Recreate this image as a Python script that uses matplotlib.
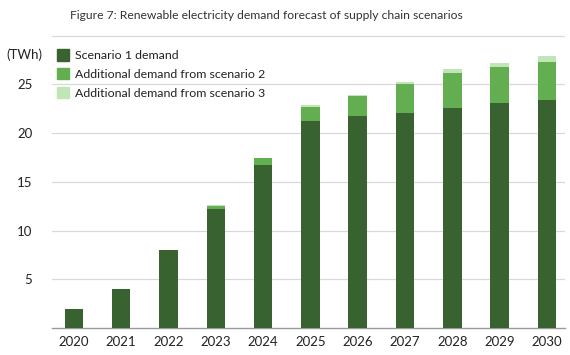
import matplotlib
matplotlib.use("Agg")
import matplotlib.pyplot as plt
from matplotlib.patches import Patch

years = ["2020", "2021", "2022", "2023", "2024", "2025", "2026", "2027", "2028", "2029", "2030"]
scenario1 = [2.0, 4.0, 8.0, 12.2, 16.7, 21.25, 21.75, 22.1, 22.6, 23.1, 23.4]
add_s2 = [0.0, 0.0, 0.0, 0.35, 0.75, 1.45, 2.05, 2.9, 3.6, 3.7, 3.9]
add_s3 = [0.0, 0.0, 0.0, 0.1, 0.05, 0.2, 0.1, 0.25, 0.4, 0.4, 0.65]
yticks = [5, 10, 15, 20, 25]
labels = ["Scenario 1 demand", "Additional demand from scenario 2", "Additional demand from scenario 3"]
title = "Figure 7: Renewable electricity demand forecast of supply chain scenarios"

c1, c2, c3 = "#386230", "#62ae50", "#bfe6b6"
plt.rcParams['font.family'] = ['Lato', 'DejaVu Sans']

fig = plt.figure(figsize=(5.7, 3.55), dpi=100)
# y from 0 to 30.5 ; 30 at y=36 px, 0 at 328 px
ax = fig.add_axes([0.091, 0.076, 0.9, 0.837])

x = list(range(len(years)))
w = 0.39
ax.bar(x, scenario1, w, color=c1, zorder=3)
b2 = [a for a in scenario1]
ax.bar(x, add_s2, w, bottom=b2, color=c2, zorder=3)
b3 = [a + b for a, b in zip(scenario1, add_s2)]
ax.bar(x, add_s3, w, bottom=b3, color=c3, zorder=3)

ax.set_ylim(0, 30.5)
ax.set_xlim(-0.465, 10.38)
ax.set_yticks([5, 10, 15, 20, 25, 30])
ax.set_yticklabels([str(t) for t in yticks] + [""])
ax.set_xticks(x)
ax.set_xticklabels(years)
ax.grid(axis='y', color='#d9d9d9', linewidth=0.9, zorder=0)
for s in ['top', 'right', 'left']:
    ax.spines[s].set_visible(False)
ax.spines['bottom'].set_color('#999999')
ax.spines['bottom'].set_linewidth(1.0)
ax.tick_params(axis='both', length=0, labelsize=9.5, colors='#222222')
ax.tick_params(axis='y', pad=14)
ax.tick_params(axis='x', pad=6)

fig.text(0.074, 0.845, "(TWh)", ha='right', va='center', fontsize=9.5, color='#222222')

handles = [Patch(color=c) for c in (c1, c2, c3)]
leg = ax.legend(handles, labels, loc='upper left', bbox_to_anchor=(0.0, 0.955), frameon=False,
                fontsize=8.9, handlelength=1.0, handleheight=1.05, handletextpad=0.5,
                labelspacing=0.55, borderaxespad=0.0)
for t in leg.get_texts():
    t.set_color('#222222')

fig.text(0.468, 0.955, title, ha='center', va='center', fontsize=8.7, color='#333333')

fig.savefig("out.png", dpi=100)
